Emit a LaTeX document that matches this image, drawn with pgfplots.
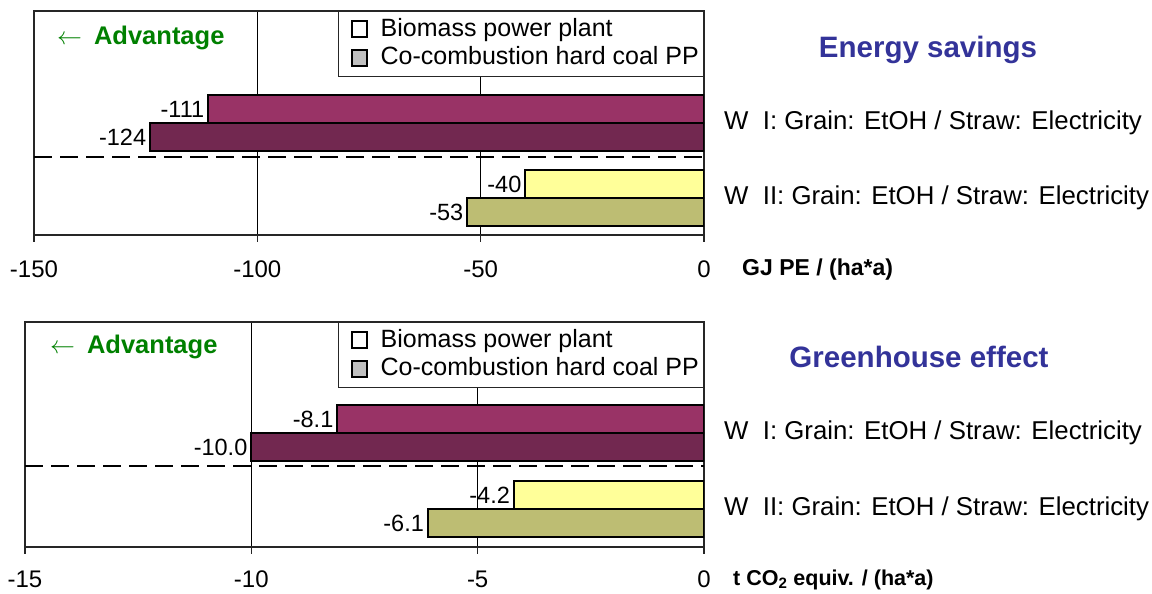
\documentclass[border=0pt]{standalone}
\usepackage{pgfplots}
\pgfplotsset{compat=1.18}
\usepackage{fontspec}
\setmainfont{Liberation Sans}
\definecolor{magbar}{HTML}{993366}
\definecolor{darkbar}{HTML}{722850}
\definecolor{yelbar}{HTML}{FFFF99}
\definecolor{olvbar}{HTML}{BDBD73}
\definecolor{legray}{HTML}{C0C0C0}
\definecolor{advgreen}{HTML}{008000}
\definecolor{titleblue}{HTML}{333399}
\pgfplotsset{
  myaxis/.style={
    scale only axis,
    xbar, bar shift=0pt,
    axis line style={black!85, line width=1.2pt},
    xmajorgrids, major grid style={black, line width=0.8pt},
    xtick pos=bottom, tick align=outside, major tick length=7pt,
    xtick style={black!85, line width=1.2pt},
    ytick={1,2}, ytick style={draw=none}, yticklabel pos=right,
    yticklabel style={font=\fontsize{25.8}{30}\selectfont, anchor=west, inner sep=0pt, xshift=13pt},
    xticklabel style={font=\fontsize{24}{28}\selectfont, anchor=center, inner sep=0pt},
    legend style={at={(1,1)}, anchor=north east, draw=black!85, line width=1.2pt,
      font=\fontsize{25}{29}\selectfont, inner xsep=2pt, inner ysep=4pt, row sep=0pt,
      nodes={inner sep=2.5pt, text height=18pt, text depth=5.5pt}},
    legend cell align=left,
    legend image code/.code={\draw[#1, line width=2pt] (0pt,-7.5pt) rectangle (15pt,8.5pt); \path[draw=none, fill=none] (-12pt,0pt) -- (26pt,0pt);},
    nodes near coords={\pgfplotspointmeta}, point meta=explicit symbolic,
    every node near coord/.append style={anchor=east, font=\fontsize{23.5}{27}\selectfont, inner sep=3pt, text=black},
    xlabel style={at={(axis description cs:1,0)}, anchor=west, inner sep=0pt},
  },
  barstyle/.style={draw=black, line width=2pt, fill=#1, forget plot},
}
\begin{document}
\begin{tikzpicture}[x=1pt,y=1pt]
\useasboundingbox (0,0) rectangle (1152,594);
% ---------------- Energy savings ----------------
\begin{axis}[myaxis, at={(34pt,359pt)}, anchor=south west,
  width=670pt, height=224pt,
  xmin=-150, xmax=0, ymin=0.507, ymax=3.493,
  xtick={-150,-100,-50,0}, xticklabels={-150,-100,-50,0},
  xticklabel style={yshift=-27pt},
  yticklabels={W\ \ II: Grain: EtOH / Straw: Electricity, W\ \ I: Grain: EtOH / Straw: Electricity},
  xlabel={GJ PE / (ha*a)}, xlabel style={font=\fontsize{23}{27}\selectfont\bfseries, xshift=38pt, yshift=-35pt},
  bar width=0.373]
\addlegendimage{fill=white, draw=black}
\addlegendentry{Biomass power plant}
\addlegendimage{fill=legray, draw=black}
\addlegendentry{Co-combustion hard coal PP}
\addplot[barstyle=magbar] coordinates {(-111,2.187) [-111]};
\addplot[barstyle=darkbar] coordinates {(-124,1.813) [-124]};
\addplot[barstyle=yelbar] coordinates {(-40,1.187) [-40]};
\addplot[barstyle=olvbar] coordinates {(-53,0.813) [-53]};
\draw[black, line width=2.5pt, dash pattern=on 18pt off 8pt] (axis cs:-150,1.547) -- (axis cs:0,1.547);
\end{axis}
\node[anchor=west, text=advgreen, font=\fontsize{25.5}{29}\selectfont\bfseries, inner sep=0pt] at (57,556) {$\leftarrow$\hspace{12pt}Advantage};
\node[text=titleblue, font=\fontsize{29.5}{34}\selectfont\bfseries, inner sep=0pt] at (928,544) {Energy savings};
% ---------------- Greenhouse effect ----------------
\begin{axis}[myaxis, at={(25pt,47pt)}, anchor=south west,
  width=679pt, height=225pt,
  xmin=-15, xmax=0, ymin=0.5, ymax=3.46,
  xtick={-15,-10,-5,0}, xticklabels={-15,-10,-5,0},
  xticklabel style={yshift=-25pt},
  yticklabels={W\ \ II: Grain: EtOH / Straw: Electricity, W\ \ I: Grain: EtOH / Straw: Electricity},
  xlabel={t CO\textsubscript{2} equiv. / (ha*a)}, xlabel style={font=\fontsize{21.5}{25}\selectfont\bfseries, xshift=29pt, yshift=-33pt},
  bar width=0.368]
\addlegendimage{fill=white, draw=black}
\addlegendentry{Biomass power plant}
\addlegendimage{fill=legray, draw=black}
\addlegendentry{Co-combustion hard coal PP}
\addplot[barstyle=magbar] coordinates {(-8.1,2.184) [-8.1]};
\addplot[barstyle=darkbar] coordinates {(-10.0,1.816) [-10.0]};
\addplot[barstyle=yelbar] coordinates {(-4.2,1.184) [-4.2]};
\addplot[barstyle=olvbar] coordinates {(-6.1,0.816) [-6.1]};
\draw[black, line width=2.5pt, dash pattern=on 18pt off 8pt] (axis cs:-15,1.566) -- (axis cs:0,1.566);
\end{axis}
\node[anchor=west, text=advgreen, font=\fontsize{25.5}{29}\selectfont\bfseries, inner sep=0pt] at (50,247) {$\leftarrow$\hspace{12pt}Advantage};
\node[text=titleblue, font=\fontsize{29.5}{34}\selectfont\bfseries, inner sep=0pt] at (919,237) {Greenhouse effect};
\end{tikzpicture}
\end{document}
